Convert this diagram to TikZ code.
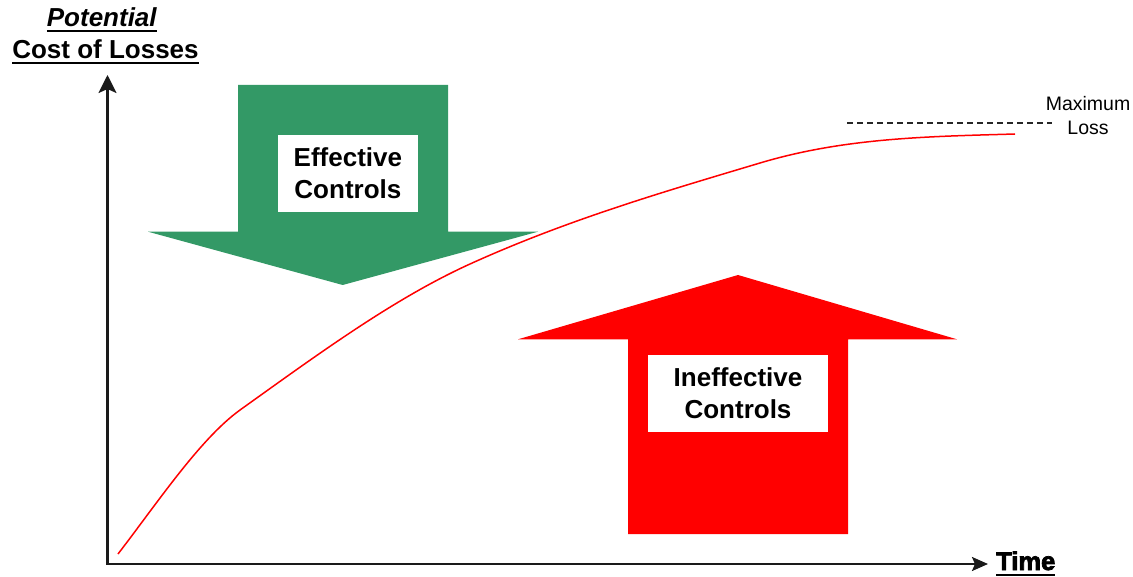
\documentclass[tikz,border=0pt]{standalone}
\usepackage{fontspec}
\setmainfont{Liberation Sans}
\newfontfamily\heavyfont[FakeBold=3]{Liberation Sans Bold}
\usetikzlibrary{arrows.meta}
\definecolor{ctrlgreen}{HTML}{339966}
\definecolor{lossred}{HTML}{FF0000}
\definecolor{axisblack}{HTML}{1A1A1A}
\definecolor{dashgray}{HTML}{262626}
% underline drawn as a rule below the baseline
\newcommand\ruledtext[2]{\setbox0\hbox{#2}\leavevmode\rlap{\rule[#1]{\wd0}{2bp}}\box0}
\begin{document}
\begin{tikzpicture}[x=1bp,y=-1bp,
  bigtext/.style={font={\fontsize{26bp}{31.5bp}\selectfont\bfseries}},
  smalltext/.style={font={\fontsize{19.5bp}{23.4bp}\selectfont}},
  labelbox/.style={bigtext,fill=white,align=center,inner sep=0pt,
    minimum height=76.7bp},
  axisline/.style={draw=axisblack,line width=2.2bp,
    {Stealth[length=18bp,width=18bp,inset=4bp]}-{Stealth[length=16bp,width=14bp,inset=3bp]}},
  lossline/.style={draw=lossred,line width=1.5bp},
  maxdash/.style={draw=dashgray,line width=1.6bp,dash pattern=on 6bp off 4bp},
]
\useasboundingbox (0,0) rectangle (1133,577);

% axis title
\node[bigtext,anchor=base,inner sep=0pt] (titleA) at (102,27)
  {\ruledtext{-5bp}{\textit{Potential}}};
\node[bigtext,anchor=base,inner sep=0pt] (titleB) at (105.5,59)
  {\ruledtext{-5.5bp}{Cost of Losses}};

% axes
\coordinate (origin) at (107.5,564);
\coordinate (ytip) at (107.5,75);
\coordinate (xtip) at (988,564);
\draw[axisline] (ytip) -- (origin) -- (xtip);
\node[anchor=base west,inner sep=0pt,font={\fontsize{25.5bp}{30bp}\selectfont\heavyfont}]
  (timelabel) at (996,570) {\ruledtext{-6bp}{Time}};

% effective controls push the curve down
\fill[ctrlgreen] (238,85) -- (448,85) -- (448,231.7) -- (538,231.7)
  -- (342.7,285) -- (148,231.7) -- (238,231.7) -- cycle;
\node[labelbox,minimum width=139.7bp] (effective) at (347.9,173.3)
  {Effective\\Controls};

% ineffective controls push the curve up
\fill[lossred] (738,275) -- (957,339.3) -- (848,339.3) -- (848,534)
  -- (628,534) -- (628,339.3) -- (518,339.3) -- cycle;
\node[labelbox,minimum width=180bp] (ineffective) at (738,393.3)
  {Ineffective\\Controls};

% cost curve
\coordinate (curveA) at (118,554);
\coordinate (curveB) at (240,410);
\coordinate (curveC) at (470,264);
\coordinate (curveD) at (760,163);
\coordinate (curveE) at (1015,134);
\draw[lossline] (curveA)
  .. controls (158,502) and (200,439) .. (curveB)
  .. controls (317,355) and (393,299) .. (curveC)
  .. controls (567,220) and (663,192) .. (curveD)
  .. controls (845,137.5) and (930,136.5) .. (curveE);

% maximum loss level
\coordinate (maxA) at (847,123.3);
\coordinate (maxB) at (1052,123.3);
\draw[maxdash] (maxA) -- (maxB);
\node[smalltext,align=center,inner sep=0pt] (maxloss) at (1088,115.5)
  {Maximum\\Loss};
\end{tikzpicture}
\end{document}
